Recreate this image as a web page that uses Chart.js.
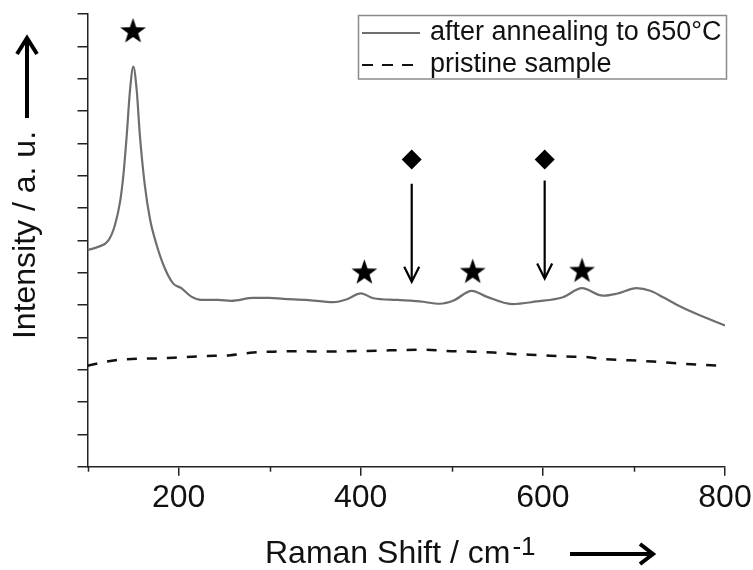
<!DOCTYPE html>
<html>
<head>
<meta charset="utf-8">
<script src="https://cdn.jsdelivr.net/npm/chart.js@4.4.1/dist/chart.umd.min.js"></script>
<style>
  html, body { margin: 0; padding: 0; background: #fff; }
  #wrap { width: 753px; height: 570px; }
</style>
</head>
<body>
<div id="wrap"><canvas id="ramanChart" width="753" height="570"></canvas></div>
<script>
// Raman spectra (shift in cm-1, intensity in a. u.)
const annealedShift = [100, 112, 123, 130, 135.7, 139.3, 143, 146.7, 150.3, 154, 157.6, 163, 168.6, 176, 185, 194, 203, 214, 225, 243, 258, 282, 300, 315, 340, 370, 385, 400, 414, 440, 465, 487, 502, 522, 538, 566, 593, 622, 643, 666, 681, 703, 718, 732, 747, 769, 800];
const annealedIntensity = [6.70, 6.80, 7.00, 7.46, 8.18, 8.99, 10.22, 11.65, 12.37, 11.65, 10.22, 8.69, 7.66, 6.85, 6.13, 5.67, 5.52, 5.26, 5.16, 5.16, 5.13, 5.22, 5.22, 5.19, 5.16, 5.09, 5.18, 5.36, 5.21, 5.16, 5.11, 5.04, 5.14, 5.44, 5.26, 5.03, 5.11, 5.24, 5.52, 5.29, 5.35, 5.52, 5.44, 5.24, 5.01, 4.72, 4.37];

const pristineShift = [100, 125, 154, 180, 205, 231, 257, 282, 308, 333, 359, 385, 436, 469, 494, 520, 546, 571, 597, 622, 648, 670, 696, 721, 751, 776, 800];
const pristineIntensity = [3.12, 3.27, 3.34, 3.35, 3.39, 3.42, 3.45, 3.53, 3.56, 3.57, 3.56, 3.57, 3.60, 3.62, 3.58, 3.56, 3.53, 3.48, 3.45, 3.41, 3.39, 3.32, 3.29, 3.25, 3.19, 3.15, 3.12];

// peak markers (stars) and the two marked positions (diamonds + arrows)
const starShift = [150, 404, 523, 643];
const starLevel = [13.49, 6.03, 6.05, 6.08];
const diamondShift = [456, 602];
const diamondLevel = [9.5, 9.5];
const arrowTop = [8.75, 8.85];
const arrowTip = [5.72, 5.82];

const xMajorTicks = [200, 400, 600, 800];
const xMinorTicks = [100, 300, 500, 700];
const yTicks = [0, 1, 2, 3, 4, 5, 6, 7, 8, 9, 10, 11, 12, 13, 14];

const seriesLabels = ['after annealing to 650°C', 'pristine sample'];
const xTitle = 'Raman Shift / cm';
const xTitleSup = '-1';
const yTitle = 'Intensity / a. u.';

const FONT = "'Liberation Sans', Arial, sans-serif";
const INK = '#111';
const SOLID_COLOR = '#6e6e6e';

function toPoints(xs, ys) {
    return xs.map((x, i) => ({ x: x, y: ys[i] }));
}

// filled five point star used as point style
function makeStar(size) {
    const c = document.createElement('canvas');
    c.width = size; c.height = size;
    const g = c.getContext('2d');
    const r = size / 2, ri = r * 0.4;
    g.beginPath();
    for (let i = 0; i < 10; i++) {
        const a = -Math.PI / 2 + i * Math.PI / 5;
        const rr = i % 2 === 0 ? r : ri;
        const px = r + rr * Math.cos(a), py = r + rr * Math.sin(a) + size * 0.04;
        if (i === 0) g.moveTo(px, py); else g.lineTo(px, py);
    }
    g.closePath();
    g.fillStyle = '#000';
    g.fill();
    return c;
}
const starImg = makeStar(27);

function arrowHead(ctx, x, y, dx, dy, len, half) {
    // chevron with the tip at (x, y), pointing along (dx, dy)
    const bx = x - dx * len, by = y - dy * len;
    ctx.beginPath();
    ctx.moveTo(bx - dy * half, by + dx * half);
    ctx.lineTo(x, y);
    ctx.lineTo(bx + dy * half, by - dx * half);
    ctx.stroke();
}

const decorPlugin = {
    id: 'decor',
    afterDraw(chart) {
        const ctx = chart.ctx;
        const xs = chart.scales.x, ys = chart.scales.y;
        const bottom = chart.chartArea.bottom;
        ctx.save();

        // minor ticks on the x axis
        ctx.strokeStyle = '#222';
        ctx.lineWidth = 1.5;
        xMinorTicks.forEach(v => {
            const px = Math.round(xs.getPixelForValue(v)) + 0.5;
            ctx.beginPath();
            ctx.moveTo(px, bottom);
            ctx.lineTo(px, bottom + 5);
            ctx.stroke();
        });

        // arrows under the diamonds
        ctx.strokeStyle = '#000';
        ctx.lineWidth = 2.2;
        ctx.lineJoin = 'miter';
        diamondShift.forEach((v, i) => {
            const px = xs.getPixelForValue(v);
            const y1 = ys.getPixelForValue(arrowTop[i]);
            const y2 = ys.getPixelForValue(arrowTip[i]);
            ctx.beginPath();
            ctx.moveTo(px, y1);
            ctx.lineTo(px, y2 - 1);
            ctx.stroke();
            arrowHead(ctx, px, y2, 0, 1, 15, 7.5);
        });

        // y axis title with arrow
        ctx.fillStyle = INK;
        ctx.font = '32px ' + FONT;
        ctx.save();
        ctx.translate(35, 235);
        ctx.rotate(-Math.PI / 2);
        ctx.textAlign = 'center';
        ctx.textBaseline = 'alphabetic';
        ctx.fillText(yTitle, 0, 0);
        ctx.restore();
        ctx.strokeStyle = '#000';
        ctx.lineWidth = 4;
        ctx.beginPath();
        ctx.moveTo(27, 118);
        ctx.lineTo(27, 40);
        ctx.stroke();
        arrowHead(ctx, 27, 38, 0, -1, 16, 10);

        // x axis title with superscript and arrow
        ctx.textAlign = 'left';
        ctx.textBaseline = 'alphabetic';
        ctx.font = '32px ' + FONT;
        ctx.fillText(xTitle, 265, 563);
        const w = ctx.measureText(xTitle).width;
        ctx.font = '26px ' + FONT;
        ctx.fillText(xTitleSup, 265 + w + 2, 555);
        ctx.lineWidth = 4;
        ctx.beginPath();
        ctx.moveTo(570, 554);
        ctx.lineTo(651, 554);
        ctx.stroke();
        arrowHead(ctx, 653, 554, 1, 0, 13, 10);

        // legend
        ctx.strokeStyle = '#8a8a8a';
        ctx.lineWidth = 1.5;
        ctx.strokeRect(358.5, 15.5, 368, 63.5);
        ctx.strokeStyle = SOLID_COLOR;
        ctx.lineWidth = 2;
        ctx.beginPath();
        ctx.moveTo(362, 33);
        ctx.lineTo(420, 33);
        ctx.stroke();
        ctx.strokeStyle = '#111';
        ctx.setLineDash([11, 9]);
        ctx.beginPath();
        ctx.moveTo(362, 65);
        ctx.lineTo(414, 65);
        ctx.stroke();
        ctx.setLineDash([]);
        ctx.fillStyle = INK;
        ctx.font = '27px ' + FONT;
        ctx.textBaseline = 'middle';
        ctx.fillText(seriesLabels[0], 430, 33);
        ctx.fillText(seriesLabels[1], 430, 65);

        ctx.restore();
    }
};

const chart = new Chart(document.getElementById('ramanChart'), {
    type: 'line',
    data: {
        datasets: [
            {
                label: seriesLabels[0],
                data: toPoints(annealedShift, annealedIntensity),
                borderColor: SOLID_COLOR,
                borderWidth: 2.2,
                pointRadius: 0,
                cubicInterpolationMode: 'monotone',
                fill: false
            },
            {
                label: seriesLabels[1],
                data: toPoints(pristineShift, pristineIntensity),
                borderColor: '#111',
                borderWidth: 2.5,
                borderDash: [10, 10],
                pointRadius: 0,
                cubicInterpolationMode: 'monotone',
                fill: false
            },
            {
                label: 'stars',
                data: toPoints(starShift, starLevel),
                showLine: false,
                pointStyle: starImg,
                pointRadius: 13,
                clip: false
            },
            {
                label: 'diamonds',
                data: toPoints(diamondShift, diamondLevel),
                showLine: false,
                pointStyle: 'rectRot',
                pointRadius: 10,
                pointBackgroundColor: '#000',
                pointBorderColor: '#000',
                pointBorderWidth: 0,
                clip: false
            }
        ]
    },
    options: {
        responsive: false,
        animation: false,
        events: [],
        layout: { padding: { top: 10, right: 0, bottom: 0, left: 0 } },
        plugins: {
            legend: { display: false },
            tooltip: { enabled: false }
        },
        scales: {
            x: {
                type: 'linear',
                min: 100,
                max: 800,
                afterBuildTicks: (scale) => { scale.ticks = xMajorTicks.map(v => ({ value: v })); },
                afterFit: (scale) => {
                    scale.height = 103.3;
                    scale.paddingRight = 28;
                    scale.paddingLeft = 0;
                },
                border: { display: true, color: '#222', width: 1.5 },
                grid: { drawOnChartArea: false, drawTicks: true, tickLength: 9, color: '#222', lineWidth: 1.5 },
                ticks: {
                    color: INK,
                    font: { family: FONT, size: 32 },
                    padding: 3,
                    maxRotation: 0,
                    autoSkip: false
                }
            },
            y: {
                type: 'linear',
                min: 0,
                max: 14,
                afterBuildTicks: (scale) => { scale.ticks = yTicks.map(v => ({ value: v })); },
                afterFit: (scale) => {
                    scale.width = 87.5;
                    scale.paddingTop = 0;
                    scale.paddingBottom = 0;
                },
                border: { display: true, color: '#222', width: 1.5 },
                grid: { drawOnChartArea: false, drawTicks: true, tickLength: 10, color: '#222', lineWidth: 1.5 },
                ticks: {
                    callback: () => '',
                    font: { size: 1 },
                    padding: 0
                }
            }
        }
    },
    plugins: [decorPlugin]
});
</script>
</body>
</html>
